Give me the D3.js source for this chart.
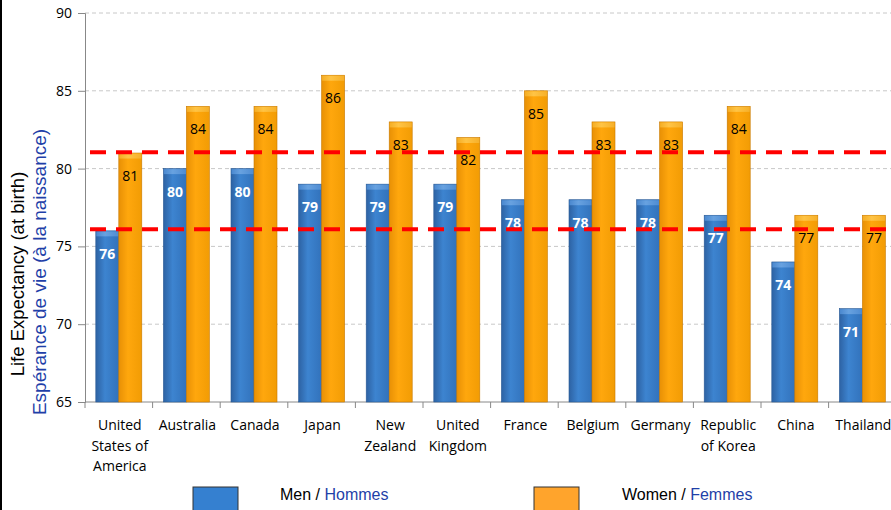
<!DOCTYPE html>
<html>
<head>
<meta charset="utf-8">
<script src="https://cdn.jsdelivr.net/npm/d3@7"></script>
<style>
  body { margin: 0; background: #fff; }
  svg { display: block; }
</style>
</head>
<body>
<script>
// chart data
var countries = [["United", "States of", "America"], ["Australia"], ["Canada"], ["Japan"],
  ["New", "Zealand"], ["United", "Kingdom"], ["France"], ["Belgium"], ["Germany"],
  ["Republic", "of Korea"], ["China"], ["Thailand"]];
var men = [76, 80, 80, 79, 79, 79, 78, 78, 78, 77, 74, 71];
var women = [81, 84, 84, 86, 83, 82, 85, 83, 83, 84, 77, 77];
var avgLines = [76.1, 81.05];
var yTicks = [65, 70, 75, 80, 85, 90];

var W = 891, H = 510;
var plotLeft = 85, plotTop = 13, plotBottom = 402;

var svg = d3.select("body").append("svg")
  .attr("width", W).attr("height", H);

var defs = svg.append("defs");
function barGrad(id, c0, c1, c2) {
  var g = defs.append("linearGradient").attr("id", id)
    .attr("x1", "0%").attr("x2", "100%").attr("y1", "0%").attr("y2", "0%");
  g.append("stop").attr("offset", "0%").attr("stop-color", c0);
  g.append("stop").attr("offset", "40%").attr("stop-color", c1);
  g.append("stop").attr("offset", "100%").attr("stop-color", c2);
}
barGrad("gMen", "#2d62a3", "#3d84d0", "#3272bb");
barGrad("gWomen", "#e89005", "#ffa70d", "#f29c04");
barGrad("gMenTop", "#4a88cf", "#68a2e0", "#4f8cd2");
barGrad("gWomenTop", "#f5ae25", "#ffc445", "#f6b02a");

// left frame line
svg.append("line").attr("x1", 1).attr("x2", 1).attr("y1", 0).attr("y2", H)
  .attr("stroke", "#000").attr("stroke-width", 2);

var x = d3.scaleBand().domain(d3.range(countries.length))
  .range([plotLeft, plotLeft + 67.6 * countries.length]);
var y = d3.scaleLinear().domain([65, 90]).range([plotBottom, plotTop]);

// gridlines
svg.append("g").selectAll("line").data(yTicks.slice(1)).join("line")
  .attr("x1", plotLeft).attr("x2", W)
  .attr("y1", d => y(d)).attr("y2", d => y(d))
  .attr("stroke", "#c8c8c8").attr("stroke-dasharray", "4,3");

// y axis
var yAxis = svg.append("g").attr("transform", `translate(${plotLeft},0)`)
  .call(d3.axisLeft(y).tickValues(yTicks).tickSize(7).tickPadding(6));
yAxis.select(".domain").attr("stroke", "#888");
yAxis.selectAll(".tick line").attr("stroke", "#888");
yAxis.selectAll("text").attr("font-family", "Open Sans, sans-serif")
  .attr("font-size", 14).attr("fill", "#000");

// x axis line + ticks between categories
var xg = svg.append("g");
xg.append("line").attr("x1", plotLeft).attr("x2", W).attr("y1", plotBottom).attr("y2", plotBottom)
  .attr("stroke", "#888");
xg.selectAll("line.tk").data(d3.range(countries.length + 1)).join("line").attr("class", "tk")
  .attr("x1", d => plotLeft + d * x.step()).attr("x2", d => plotLeft + d * x.step())
  .attr("y1", plotBottom).attr("y2", plotBottom + 6).attr("stroke", "#888");

xg.selectAll("text.cat").data(countries).join("text").attr("class", "cat")
  .attr("x", (d, i) => x(i) + x.bandwidth() / 2 + 1)
  .attr("y", 430)
  .attr("text-anchor", "middle")
  .attr("font-family", "Open Sans, sans-serif").attr("font-size", 14)
  .each(function(d) {
    var t = d3.select(this);
    d.forEach((s, k) => t.append("tspan").attr("x", t.attr("x")).attr("dy", k ? 20.5 : 0).text(s));
  });

// bars
var bw = 23, inner = (x.bandwidth() - 2 * bw) / 2;
function drawBars(vals, off, grad, gradTop, edge) {
  var g = svg.append("g");
  g.selectAll("rect.b").data(vals).join("rect").attr("class", "b")
    .attr("x", (d, i) => x(i) + inner + off)
    .attr("y", d => y(d)).attr("width", bw)
    .attr("height", d => plotBottom - y(d))
    .attr("fill", `url(#${grad})`).attr("stroke", edge).attr("stroke-width", 0.6);
  g.selectAll("rect.t").data(vals).join("rect").attr("class", "t")
    .attr("x", (d, i) => x(i) + inner + off + 0.5)
    .attr("y", d => y(d) + 0.5).attr("width", bw - 1).attr("height", 5)
    .attr("fill", `url(#${gradTop})`);
  return g;
}
var gm = drawBars(men, 0, "gMen", "gMenTop", "#2a5a95");
var gw = drawBars(women, bw, "gWomen", "gWomenTop", "#c87a00");

// reference lines
svg.append("g").selectAll("line").data(avgLines).join("line")
  .attr("x1", 90).attr("x2", W)
  .attr("y1", d => y(d)).attr("y2", d => y(d))
  .attr("stroke", "#ff0000").attr("stroke-width", 4)
  .attr("stroke-dasharray", "16,10");

// value labels
gm.selectAll("text").data(men).join("text")
  .attr("x", (d, i) => x(i) + inner + bw / 2)
  .attr("y", d => y(d) + 28)
  .attr("text-anchor", "middle").attr("fill", "#fff").attr("font-weight", "bold")
  .attr("font-family", "Open Sans, sans-serif").attr("font-size", 14)
  .text(d => d);
gw.selectAll("text").data(women).join("text")
  .attr("x", (d, i) => x(i) + inner + bw * 1.5)
  .attr("y", d => y(d) + 28)
  .attr("text-anchor", "middle").attr("fill", "#000")
  .attr("font-family", "Open Sans, sans-serif").attr("font-size", 14)
  .text(d => d);

// y axis title
svg.append("text").attr("transform", "translate(24,274) rotate(-90)")
  .attr("text-anchor", "middle").attr("font-family", "Liberation Sans, Arial, sans-serif")
  .attr("font-size", 18.5).text("Life Expectancy (at birth)");
svg.append("text").attr("transform", "translate(46,272) rotate(-90)")
  .attr("text-anchor", "middle").attr("font-family", "Liberation Sans, Arial, sans-serif")
  .attr("font-size", 19).attr("fill", "#1f3fa8").text("Espérance de vie (à la naissance)");

// legend
var legend = [
  { color: "#3580d0", a: "Men / ", b: "Hommes", x: 193, tx: 280 },
  { color: "#ffa42c", a: "Women / ", b: "Femmes", x: 534, tx: 622 }
];
var lg = svg.append("g").selectAll("g").data(legend).join("g");
lg.append("rect").attr("x", d => d.x).attr("y", 487).attr("width", 45).attr("height", 30)
  .attr("fill", d => d.color).attr("stroke", "#333");
var lt = lg.append("text").attr("x", d => d.tx).attr("y", 500)
  .attr("font-family", "Liberation Sans, Arial, sans-serif").attr("font-size", 16);
lt.append("tspan").attr("fill", "#000").text(d => d.a);
lt.append("tspan").attr("fill", "#1f3fa8").text(d => d.b);
</script>
</body>
</html>
